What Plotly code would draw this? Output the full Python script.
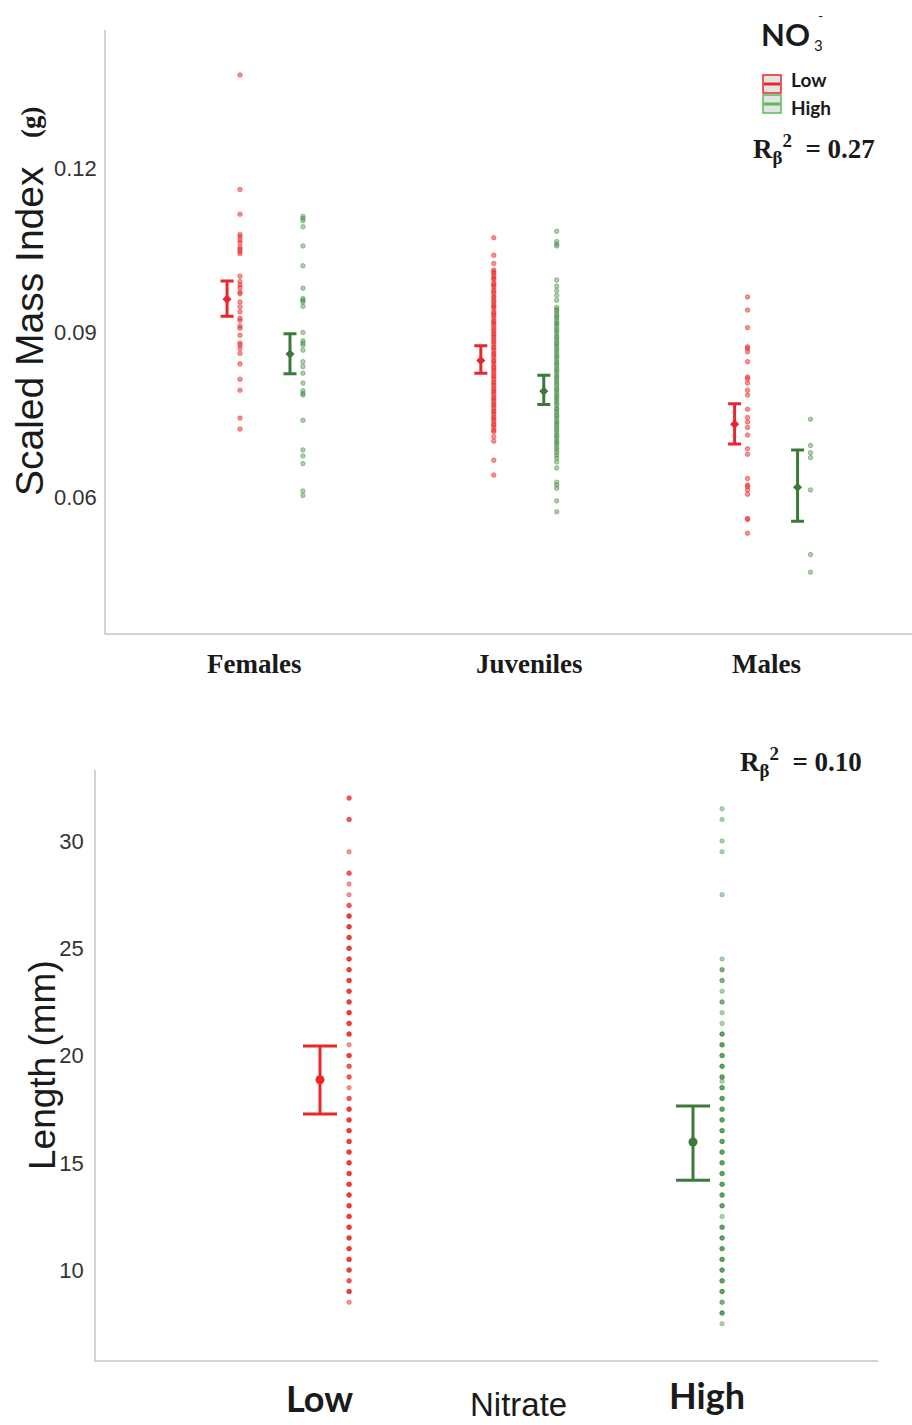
import plotly.graph_objects as go

W, H = 912, 1425

# ---------------- Top panel data (Scaled Mass Index, g) ----------------
groups = ["Females", "Juveniles", "Males"]
group_pos = [1, 2, 3]
smi_low_mean = [0.0961, 0.0849, 0.0733]
smi_low_upper = [0.0994, 0.0876, 0.0770]
smi_low_lower = [0.0930, 0.0826, 0.0697]
smi_high_mean = [0.0861, 0.0793, 0.0618]
smi_high_upper = [0.0898, 0.0822, 0.0686]
smi_high_lower = [0.0825, 0.0769, 0.0556]

fem_low = [0.1370, 0.1161, 0.1116, 0.1079, 0.1075, 0.1069, 0.1064, 0.1056, 0.1052,
           0.1048, 0.1044, 0.1003, 0.0993, 0.0987, 0.0982, 0.0974, 0.0971, 0.0956,
           0.0947, 0.0938, 0.0926, 0.0922, 0.0912, 0.0908, 0.0895, 0.0881, 0.0877,
           0.0871, 0.0862, 0.0843, 0.0815, 0.0795, 0.0744, 0.0724]
fem_high = [0.1112, 0.1108, 0.1104, 0.1093, 0.1058, 0.1022, 0.0981, 0.0962, 0.0959,
            0.0956, 0.0948, 0.0900, 0.0885, 0.0881, 0.0877, 0.0868, 0.0847, 0.0838,
            0.0826, 0.0808, 0.0794, 0.0789, 0.0786, 0.0740, 0.0686, 0.0675, 0.0661,
            0.0611, 0.0603]
juv_low = [0.1073, 0.1041, 0.1026, 0.1014, 0.1011, 0.1008, 0.1003, 0.0999, 0.0996,
           0.0990, 0.0987, 0.0984, 0.0978, 0.0975, 0.0971, 0.0966, 0.0963, 0.0958,
           0.0955, 0.0950, 0.0947, 0.0944, 0.0938, 0.0935, 0.0931, 0.0927, 0.0922,
           0.0919, 0.0915, 0.0911, 0.0906, 0.0903, 0.0898, 0.0895, 0.0891, 0.0887,
           0.0883, 0.0879, 0.0874, 0.0871, 0.0867, 0.0862, 0.0859, 0.0855, 0.0850,
           0.0847, 0.0843, 0.0838, 0.0835, 0.0831, 0.0827, 0.0822, 0.0819, 0.0815,
           0.0810, 0.0807, 0.0803, 0.0798, 0.0795, 0.0791, 0.0787, 0.0782, 0.0779,
           0.0775, 0.0770, 0.0767, 0.0763, 0.0758, 0.0755, 0.0751, 0.0746, 0.0743,
           0.0739, 0.0734, 0.0731, 0.0727, 0.0722, 0.0719, 0.0710, 0.0702, 0.0667,
           0.0640]
juv_high = [0.1085, 0.1066, 0.1061, 0.1058, 0.0996, 0.0985, 0.0977, 0.0968, 0.0959,
            0.0946, 0.0942, 0.0939, 0.0934, 0.0930, 0.0927, 0.0922, 0.0918, 0.0915,
            0.0911, 0.0906, 0.0903, 0.0899, 0.0894, 0.0891, 0.0887, 0.0882, 0.0879,
            0.0875, 0.0871, 0.0867, 0.0863, 0.0858, 0.0855, 0.0851, 0.0846, 0.0843,
            0.0839, 0.0834, 0.0831, 0.0827, 0.0822, 0.0819, 0.0815, 0.0811, 0.0807,
            0.0803, 0.0798, 0.0795, 0.0791, 0.0786, 0.0783, 0.0779, 0.0775, 0.0771,
            0.0767, 0.0762, 0.0759, 0.0755, 0.0750, 0.0747, 0.0743, 0.0738, 0.0735,
            0.0731, 0.0727, 0.0723, 0.0719, 0.0714, 0.0711, 0.0707, 0.0702, 0.0699,
            0.0695, 0.0690, 0.0686, 0.0681, 0.0676, 0.0671, 0.0664, 0.0653, 0.0627,
            0.0622, 0.0616, 0.0593, 0.0573]
mal_low = [0.0965, 0.0941, 0.0909, 0.0874, 0.0871, 0.0865, 0.0847, 0.0819, 0.0816,
           0.0808, 0.0795, 0.0786, 0.0760, 0.0745, 0.0737, 0.0727, 0.0713, 0.0688,
           0.0678, 0.0634, 0.0622, 0.0619, 0.0613, 0.0605, 0.0561, 0.0559, 0.0534]
mal_high = [0.0742, 0.0694, 0.0681, 0.0672, 0.0613, 0.0495, 0.0463]
smi_low_points = [fem_low, juv_low, mal_low]
smi_high_points = [fem_high, juv_high, mal_high]
smi_ticks = [0.06, 0.09, 0.12]

# ---------------- Bottom panel data (Length, mm) ----------------
nitrate = ["Low", "High"]
nitrate_pos = [1, 2]
len_mean = [18.87, 15.97]
len_upper = [20.44, 17.65]
len_lower = [17.28, 14.19]
len_low_vals = [32, 31, 29.5, 28.5, 28, 27.5, 27, 26.5, 26, 25.5, 25, 24.5, 24, 23.5,
                23, 22.5, 22, 21.5, 21, 20.5, 20, 19.5, 19, 18.5, 18, 17.5, 17, 16.5,
                16, 15.5, 15, 14.5, 14, 13.5, 13, 12.5, 12, 11.5, 11, 10.5, 10, 9.5,
                9, 8.5]
len_low_n = [2, 2, 1, 2, 1, 1, 2, 3, 3, 3, 3, 3, 3, 3, 3, 3, 3, 3, 3, 1, 3, 2, 2, 1, 2,
             3, 3, 3, 3, 3, 3, 3, 3, 3, 3, 3, 3, 3, 3, 3, 3, 2, 3, 1]
len_high_vals = [31.5, 31, 30, 29.5, 27.5, 24.5, 24, 23.5, 23, 22.5, 22, 21.5, 21, 20.5,
                 20, 19.5, 19, 18.8, 18.5, 18, 17.5, 17, 16.5, 16, 15.5, 15, 14.5, 14,
                 13.5, 13, 12.5, 12, 11.5, 11, 10.5, 10, 9.5, 9, 8.5, 8, 7.5]
len_high_n = [1, 1, 1, 1, 1, 1, 2, 2, 1, 2, 1, 1, 3, 3, 3, 3, 3, 1, 3, 3, 3, 3, 3, 3, 3,
              3, 3, 3, 3, 3, 1, 3, 3, 3, 3, 3, 3, 3, 2, 3, 1]
len_ticks = [10, 15, 20, 25, 30]

# ---------------- styling ----------------
RED = "#e8282c"
GREEN = "#3b7a3b"
RED_DOT = "rgba(236,38,38,0.5)"
RED_DOT_LINE = "rgba(236,38,38,0.62)"
GREEN_DOT = "rgba(62,140,62,0.42)"
GREEN_DOT_LINE = "rgba(62,140,62,0.58)"
SERIF = "Liberation Serif"
SANS = "Liberation Sans"
CAL = "Lato"
AXC = "#d4d4d4"

ERR_OFF = 0.124
DOT_OFF_LOW = -0.073
DOT_OFF_HIGH = 0.175
B_DOT_OFF = 0.078


def px(x):
    return x / W


def py(y):
    return 1 - y / H


fig = go.Figure()

# ----- top panel -----
for i, g in enumerate(groups):
    xc = group_pos[i]
    fig.add_trace(go.Scatter(
        x=[xc + DOT_OFF_LOW] * len(smi_low_points[i]), y=smi_low_points[i],
        mode="markers", xaxis="x", yaxis="y", showlegend=False,
        marker=dict(size=4.5, color=RED_DOT, line=dict(color=RED_DOT_LINE, width=0.8))))
    fig.add_trace(go.Scatter(
        x=[xc + DOT_OFF_HIGH] * len(smi_high_points[i]), y=smi_high_points[i],
        mode="markers", xaxis="x", yaxis="y", showlegend=False,
        marker=dict(size=4.5, color=GREEN_DOT, line=dict(color=GREEN_DOT_LINE, width=0.8))))

fig.add_trace(go.Scatter(
    x=[p - ERR_OFF for p in group_pos], y=smi_low_mean, mode="markers",
    xaxis="x", yaxis="y", showlegend=False,
    marker=dict(size=7, color=RED, symbol="diamond"),
    error_y=dict(type="data", symmetric=False,
                 array=[u - m for u, m in zip(smi_low_upper, smi_low_mean)],
                 arrayminus=[m - l for l, m in zip(smi_low_lower, smi_low_mean)],
                 color=RED, thickness=3, width=6.5)))
fig.add_trace(go.Scatter(
    x=[p + ERR_OFF for p in group_pos], y=smi_high_mean, mode="markers",
    xaxis="x", yaxis="y", showlegend=False,
    marker=dict(size=7, color=GREEN, symbol="diamond"),
    error_y=dict(type="data", symmetric=False,
                 array=[u - m for u, m in zip(smi_high_upper, smi_high_mean)],
                 arrayminus=[m - l for l, m in zip(smi_high_lower, smi_high_mean)],
                 color=GREEN, thickness=3, width=6.5)))

# ----- bottom panel -----
low_expanded = [v for v, n in zip(len_low_vals, len_low_n) for _ in range(n)]
high_expanded = [v for v, n in zip(len_high_vals, len_high_n) for _ in range(n)]
fig.add_trace(go.Scatter(
    x=[nitrate_pos[0] + B_DOT_OFF] * len(low_expanded), y=low_expanded,
    mode="markers", xaxis="x2", yaxis="y2", showlegend=False,
    marker=dict(size=4.5, color=RED_DOT, line=dict(color=RED_DOT_LINE, width=0.6))))
fig.add_trace(go.Scatter(
    x=[nitrate_pos[1] + B_DOT_OFF] * len(high_expanded), y=high_expanded,
    mode="markers", xaxis="x2", yaxis="y2", showlegend=False,
    marker=dict(size=4.5, color=GREEN_DOT, line=dict(color=GREEN_DOT_LINE, width=0.6))))
for i, col in enumerate([RED, GREEN]):
    fig.add_trace(go.Scatter(
        x=[nitrate_pos[i]], y=[len_mean[i]], mode="markers",
        xaxis="x2", yaxis="y2", showlegend=False,
        marker=dict(size=9, color=col),
        error_y=dict(type="data", symmetric=False,
                     array=[len_upper[i] - len_mean[i]],
                     arrayminus=[len_mean[i] - len_lower[i]],
                     color=col, thickness=3, width=17)))

axis_common = dict(showgrid=False, zeroline=False, showline=True, linecolor=AXC,
                   linewidth=1.5, ticks="")

fig.update_layout(
    width=W, height=H, margin=dict(l=0, r=0, t=0, b=0),
    paper_bgcolor="white", plot_bgcolor="white",
    xaxis=dict(domain=[px(106), 1.0], range=[0.399, 3.575], showticklabels=False,
               anchor="y", **axis_common),
    yaxis=dict(domain=[py(633), py(30)], range=[0.0352, 0.1452], anchor="x",
               tickvals=smi_ticks, ticktext=[f"{t:.2f}" for t in smi_ticks],
               tickfont=dict(family=SANS, size=22, color="#333333"),
               ticklabelstandoff=3, **axis_common),
    xaxis2=dict(domain=[px(96), px(878)], range=[0.3995, 2.496], showticklabels=False,
                anchor="y2", **axis_common),
    yaxis2=dict(domain=[py(1360), py(770)], range=[5.81, 33.31], anchor="x2",
                tickvals=len_ticks, ticktext=[str(t) for t in len_ticks],
                tickfont=dict(family=SANS, size=22, color="#333333"),
                ticklabelstandoff=6, **axis_common),
)

ann = []


def text_at(xp, yp, text, font, **kw):
    d = dict(x=px(xp), y=py(yp), xref="paper", yref="paper", text=text,
             showarrow=False, xanchor="center", yanchor="middle", font=font)
    d.update(kw)
    ann.append(d)


# top category labels
label_shift = [-5, 17, 0]
for i, g in enumerate(groups):
    ann.append(dict(x=group_pos[i], y=py(664), xref="x", yref="paper", text=f"<b>{g}</b>",
                    showarrow=False, xshift=label_shift[i], xanchor="center",
                    yanchor="middle", font=dict(family=SERIF, size=27, color="#1a1a1a")))
# bottom category labels
b_shift = [0, 14]
b_y = [1398, 1395]
for i, g in enumerate(nitrate):
    ann.append(dict(x=nitrate_pos[i], y=py(b_y[i]), xref="x2", yref="paper",
                    text=f"<b>{g}</b>", showarrow=False, xshift=b_shift[i],
                    xanchor="center", yanchor="middle",
                    font=dict(family=CAL, size=36, color="#1a1a1a")))
text_at(518, 1425, "Nitrate", dict(family=SANS, size=33, color="#1a1a1a"),
        yanchor="bottom")
# y titles
text_at(29, 331, "Scaled Mass Index", dict(family=SANS, size=39, color="#1a1a1a"),
        textangle=-90)
text_at(31, 123, "<b>(g)</b>", dict(family=SERIF, size=27, color="#1a1a1a"),
        textangle=-90)
text_at(42, 1065, "Length (mm)", dict(family=SANS, size=37, color="#1a1a1a"),
        textangle=-90)
# R^2 labels
text_at(814, 149, "<b>R<sub>β</sub><sup>2</sup>  = 0.27</b>",
        dict(family=SERIF, size=27, color="#1a1a1a"))
text_at(801, 762, "<b>R<sub>β</sub><sup>2</sup>  = 0.10</b>",
        dict(family=SERIF, size=27, color="#1a1a1a"))
# legend
text_at(759, 34, "<b>NO</b>", dict(family=CAL, size=31, color="#1a1a1a"),
        xanchor="left")
text_at(818, 45, "3", dict(family=CAL, size=15, color="#1a1a1a"))
text_at(820, 15, "-", dict(family=CAL, size=14, color="#1a1a1a"))
text_at(789, 80, "<b>Low</b>", dict(family=CAL, size=19, color="#1a1a1a"),
        xanchor="left")
text_at(789, 108, "<b>High</b>", dict(family=CAL, size=19, color="#1a1a1a"),
        xanchor="left")

shapes = []
for col, (y0, y1) in [(RED, (75, 93)), ("#5cb85c", (95, 113))]:
    shapes.append(dict(type="rect", xref="paper", yref="paper",
                       x0=px(763), x1=px(781), y0=py(y1), y1=py(y0),
                       line=dict(color=col, width=1.5), fillcolor="#e4e4e4"))
    shapes.append(dict(type="line", xref="paper", yref="paper",
                       x0=px(764), x1=px(780), y0=py((y0 + y1) / 2), y1=py((y0 + y1) / 2),
                       line=dict(color=col, width=3)))

fig.update_layout(annotations=ann, shapes=shapes)
fig.write_html("out.html")
